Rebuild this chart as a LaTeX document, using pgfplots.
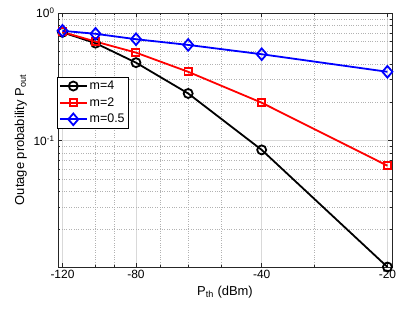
\documentclass[border=0pt]{standalone}
\usepackage{fontspec}
\setmainfont{Liberation Sans}
\usepackage{pgfplots}
\pgfplotsset{compat=1.18}
\definecolor{mred}{rgb}{1,0,0}
\definecolor{mblue}{rgb}{0,0,1}
\definecolor{axgray}{rgb}{0.15,0.15,0.15}
\begin{document}
\begin{tikzpicture}
\useasboundingbox (-58bp,-42bp) rectangle (357bp,267bp);
\begin{axis}[
  scale only axis, width=334bp, height=254bp,
  xmode=log, ymode=log, x dir=reverse,
  xmin=19.5, xmax=123, ymin=0.0102, ymax=1,
  xtick={20,40,80,120}, xticklabels={-20,-40,-80,-120},
  minor xtick={30,50,60,70,90,100},
  ytick={0.1,1}, yticklabels={10\textsuperscript{-1},10\textsuperscript{0}},
  minor ytick={0.02,0.03,0.04,0.05,0.06,0.07,0.08,0.09,0.2,0.3,0.4,0.5,0.6,0.7,0.8,0.9},
  grid=both,
  major grid style={black!15, line width=0.5bp},
  minor grid style={black!30, dotted, line width=0.5bp},
  axis line style={axgray, line width=0.5bp},
  tick style={axgray, line width=0.5bp},
  tick align=inside,
  major tick length=4bp, minor tick length=2.5bp,
  tick label style={font=\fontsize{12}{14}\selectfont},
  label style={font=\fontsize{13}{15}\selectfont},
  xlabel={P\textsubscript{th} (dBm)},
  ylabel={Outage probability P\textsubscript{out}},
  legend style={at={(rel axis cs:-0.004,0.749)}, anchor=north west,
    font=\fontsize{12.5}{14}\selectfont, draw=black, line width=0.5bp,
    inner sep=2bp, row sep=2.5bp},
  legend cell align=left,
  legend image code/.code={\draw[mark repeat=2,mark phase=2] plot coordinates {(0bp,0bp) (13.5bp,0bp) (27bp,0bp)};},
]
\addplot[black, line width=1.8bp, mark=o, mark size=4.5bp, mark options={solid}] coordinates {
 (120,0.705) (100,0.58) (80,0.408) (60,0.234) (40,0.0845) (20,0.0102)};
\addlegendentry{m=4}
\addplot[mred, line width=1.8bp, mark=square, mark size=3.6bp] coordinates {
 (120,0.71) (100,0.597) (80,0.489) (60,0.346) (40,0.198) (20,0.0635)};
\addlegendentry{m=2}
\addplot[mblue, line width=1.8bp, mark=diamond, mark size=5.8bp, mark options={xscale=1.15}] coordinates {
 (120,0.725) (100,0.687) (80,0.623) (60,0.562) (40,0.475) (20,0.346)};
\addlegendentry{m=0.5}
\end{axis}
\end{tikzpicture}
\end{document}
